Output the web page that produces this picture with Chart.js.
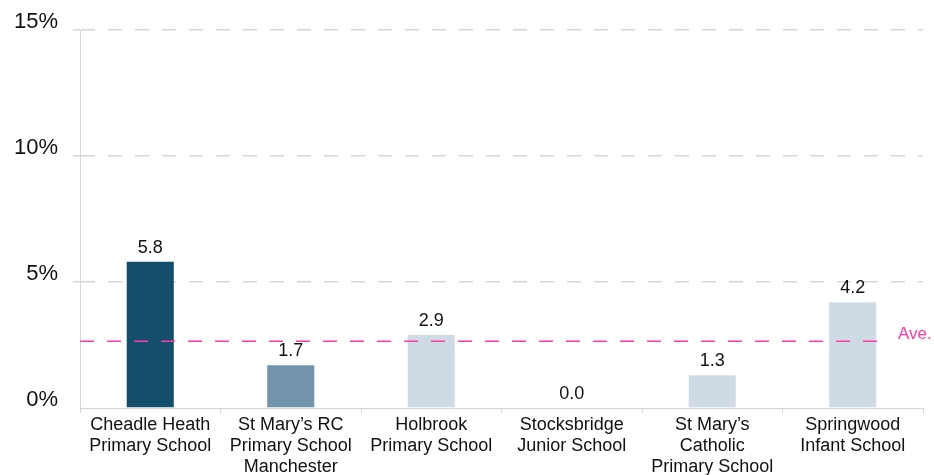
<!DOCTYPE html>
<html lang="en">
<head>
<meta charset="UTF-8">
<title>Chart</title>
<script src="https://cdn.jsdelivr.net/npm/chart.js"></script>
<style>
  html, body { margin: 0; padding: 0; background: #fff; }
</style>
</head>
<body>
<canvas id="grafico" width="934" height="475"></canvas>
<script>
// dados do gráfico
const escolas = [
    ['Cheadle Heath', 'Primary School'],
    ['St Mary\u2019s RC', 'Primary School', 'Manchester'],
    ['Holbrook', 'Primary School'],
    ['Stocksbridge', 'Junior School'],
    ['St Mary\u2019s', 'Catholic', 'Primary School'],
    ['Springwood', 'Infant School']
];
const valores = [5.8, 1.7, 2.9, 0.0, 1.3, 4.2];
const media = 2.65;
const mediaLabel = 'Ave.';
const ticksY = [0, 5, 10, 15];
const cores = ['#134f6c', '#7295ad', '#cfdbe4', '#cfdbe4', '#cfdbe4', '#cfdbe4'];

const FONTE = '"Liberation Sans", Arial, sans-serif';
const ROSA = '#ff3aa6';

// rótulos acima das barras + linha da média
const extras = {
    id: 'extras',
    afterDatasetsDraw(chart) {
        const ctx = chart.ctx;
        const area = chart.chartArea;
        const y = chart.scales.y;
        const meta = chart.getDatasetMeta(0);

        ctx.save();
        ctx.font = '18px ' + FONTE;
        ctx.fillStyle = '#111';
        ctx.textAlign = 'center';
        ctx.textBaseline = 'bottom';
        meta.data.forEach((bar, i) => {
            ctx.fillText(valores[i].toFixed(1), bar.x, bar.y - 5);
        });

        // linha da média
        const ym = y.getPixelForValue(media);
        ctx.strokeStyle = ROSA;
        ctx.lineWidth = 1.5;
        ctx.setLineDash([14, 13]);
        ctx.beginPath();
        ctx.moveTo(area.left, ym);
        ctx.lineTo(area.right - 35, ym);
        ctx.stroke();
        ctx.setLineDash([]);

        ctx.font = '17px ' + FONTE;
        ctx.fillStyle = ROSA;
        ctx.textAlign = 'left';
        ctx.textBaseline = 'bottom';
        ctx.fillText(mediaLabel, area.right - 25, ym + 2);
        ctx.restore();
    }
};

new Chart(document.getElementById('grafico'), {
    type: 'bar',
    data: {
        labels: escolas,
        datasets: [{
            data: valores,
            backgroundColor: cores,
            barPercentage: 0.67,
            categoryPercentage: 0.5
        }]
    },
    options: {
        responsive: false,
        animation: false,
        layout: { padding: { top: 30, right: 11, left: 0, bottom: 0 } },
        plugins: {
            legend: { display: false },
            tooltip: { enabled: false }
        },
        scales: {
            x: {
                afterFit: s => { s.height = 67; },
                grid: {
                    drawOnChartArea: false,
                    drawTicks: true,
                    tickLength: 5,
                    color: '#d6d6d6'
                },
                border: { display: true, color: '#d6d6d6' },
                ticks: {
                    color: '#111',
                    padding: 2,
                    maxRotation: 0,
                    autoSkip: false,
                    font: { family: FONTE, size: 18, lineHeight: 1.15 }
                }
            },
            y: {
                min: 0,
                max: 15,
                afterFit: s => { s.width = 80; },
                afterBuildTicks: s => { s.ticks = ticksY.map(v => ({ value: v })); },
                grid: {
                    color: ctx => ctx.tick && ctx.tick.value === 0 ? 'rgba(0,0,0,0)' : '#d6d6d6',
                    lineWidth: 1.5,
                    drawTicks: true,
                    tickLength: 7
                },
                border: { display: true, color: '#d6d6d6', dash: [14, 13] },
                ticks: {
                    color: '#111',
                    padding: 15,
                    labelOffset: -8,
                    callback: v => v + '%',
                    font: { family: FONTE, size: 22 }
                }
            }
        }
    },
    plugins: [extras]
});
</script>
</body>
</html>
